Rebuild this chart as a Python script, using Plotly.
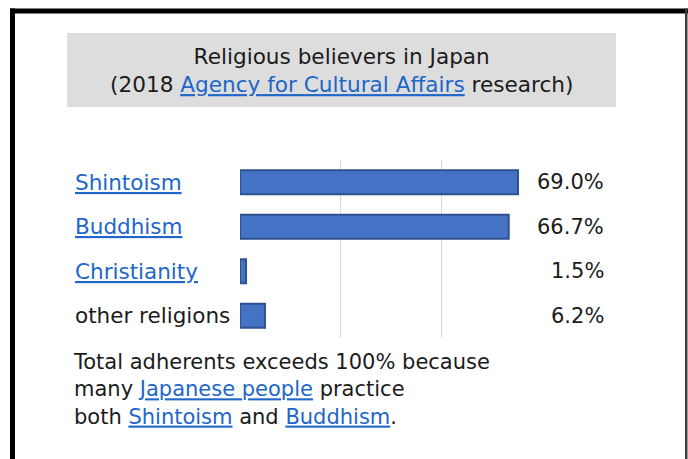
import plotly.graph_objects as go

# Survey data: share of population reporting each religion (%)
religions = ["Shintoism", "Buddhism", "Christianity", "other religions"]
shares = [69.0, 66.7, 1.5, 6.2]
linked = [True, True, True, False]

title_lines = ["Religious believers in Japan",
               "(2018 {Agency for Cultural Affairs} research)"]
note_lines = ["Total adherents exceeds 100% because",
              "many {Japanese people} practice",
              "both {Shintoism} and {Buddhism}."]

W, H = 688, 459
LINK = "#2166c9"
INK = "#1b1b1b"
BAR = "#4472c4"
BAR_EDGE = "#2f528f"
LABEL_FONT = "DejaVu Sans"
TEXT_FONT = "DejaVu Sans"


def px(x):
    return x / W


def py(y):
    return 1 - y / H


def link(s):
    return f"<span style='color:{LINK}'><u>{s}</u></span>"


def linkify(line):
    out = ""
    while "{" in line:
        a, rest = line.split("{", 1)
        b, line = rest.split("}", 1)
        out += a + link(b)
    return out + line


fig = go.Figure()
fig.add_trace(go.Bar(
    x=shares, y=religions, orientation="h", width=0.54,
    marker=dict(color=BAR, line=dict(color=BAR_EDGE, width=2)),
    hoverinfo="skip",
))

# plot area: 0 % sits at x=240 px, about 4.03 px per percentage point
x_lo, x_hi = 240, 240 + 80 * 278 / 69.0
fig.update_xaxes(range=[0, 80], domain=[px(x_lo), px(x_hi)],
                 tickvals=[25, 50], showticklabels=False, ticks="",
                 showgrid=True, gridcolor="#d9d9d9", gridwidth=1,
                 zeroline=False, showline=False, fixedrange=True)
fig.update_yaxes(domain=[py(338), py(160)], autorange="reversed",
                 showticklabels=False, ticks="", showgrid=False,
                 showline=False, zeroline=False, fixedrange=True)

annotations = []
# category names, left aligned
for name, is_link in zip(religions, linked):
    annotations.append(dict(
        x=px(73), xref="paper", y=name, yref="y", xanchor="left",
        yanchor="middle", showarrow=False,
        text=link(name) if is_link else name,
        font=dict(family=LABEL_FONT, size=21.5, color=INK)))
# value labels, right aligned
for name, v in zip(religions, shares):
    annotations.append(dict(
        x=px(606), xref="paper", y=name, yref="y", xanchor="right",
        yanchor="middle", showarrow=False, text=f"{v:.1f}%",
        font=dict(family=LABEL_FONT, size=21, color=INK)))

# title block
annotations.append(dict(
    x=px(341), y=py(71), xref="paper", yref="paper", xanchor="center",
    yanchor="middle", showarrow=False, align="center",
    text="<br>".join(linkify(l) for l in title_lines),
    font=dict(family=TEXT_FONT, size=21.6, color=INK)))

# footnote
annotations.append(dict(
    x=px(71), y=py(389), xref="paper", yref="paper", xanchor="left",
    yanchor="middle", showarrow=False, align="left",
    text="<br>".join(linkify(l) for l in note_lines),
    font=dict(family=TEXT_FONT, size=21, color=INK)))

shapes = [
    # grey title panel
    dict(type="rect", xref="paper", yref="paper", x0=px(67), x1=px(616),
         y0=py(107), y1=py(33), fillcolor="#dddddd", line=dict(width=0),
         layer="below"),
    # frame: heavy top and left edges, thin right edge
    dict(type="rect", xref="paper", yref="paper", x0=px(10), x1=px(688),
         y0=py(13.5), y1=py(8.5), fillcolor="#000000", line=dict(width=0)),
    dict(type="rect", xref="paper", yref="paper", x0=px(10), x1=px(15),
         y0=py(459), y1=py(8.5), fillcolor="#000000", line=dict(width=0)),
    dict(type="rect", xref="paper", yref="paper", x0=px(685), x1=px(687.5),
         y0=py(459), y1=py(8.5), fillcolor="#3a3a3a", line=dict(width=0)),
]

fig.update_layout(
    width=W, height=H, margin=dict(l=0, r=0, t=0, b=0),
    paper_bgcolor="white", plot_bgcolor="white", showlegend=False,
    annotations=annotations, shapes=shapes,
)

fig.write_html("out.html")
